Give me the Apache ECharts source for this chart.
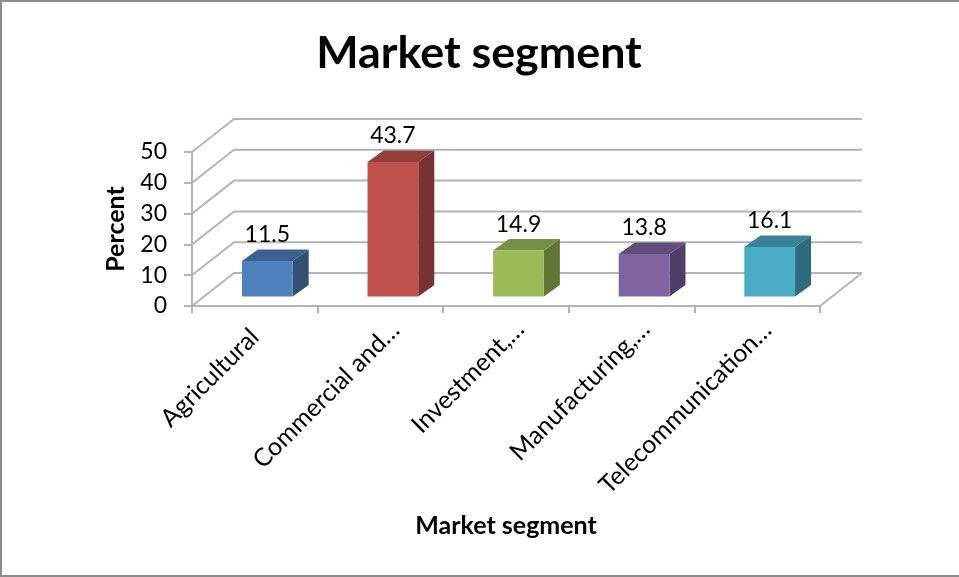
<!DOCTYPE html>
<html>
<head>
<meta charset="utf-8">
<style>
  html, body { margin: 0; padding: 0; background: #fff; }
  #chart { width: 959px; height: 577px; }
</style>
<script src="https://cdn.jsdelivr.net/npm/echarts@6/dist/echarts.min.js"></script>
</head>
<body>
<div id="chart"></div>
<script>
const categories = ['Agricultural', 'Commercial and…', 'Investment,…', 'Manufacturing,…', 'Telecommunication…'];
const percents = [11.5, 43.7, 14.9, 13.8, 16.1];
const frontColors = ['#4f81bd', '#c0504d', '#9bbb59', '#8064a2', '#4bacc6'];
const topColors = ['#3c618f', '#91403c', '#769043', '#614c7b', '#398296'];
const sideColors = ['#315074', '#773331', '#617635', '#4f3e65', '#2f6b7b'];
const wallTicks = [0, 10, 20, 30, 40, 50];
// Offset of each slanted category label's end from its band centre on the floor line.
const labelShiftsX = [0, 15, 14, 14, 10];
const labelShiftsY = [27, 20, 19, 19, 20];

const FONT = 'Lato, "Open Sans", sans-serif';
const GRID_COLOR = '#b4b4b4';
const FRAME_COLOR = '#8c8c8c';
// Depth of the floor and of each bar, in pixels, for the oblique projection.
const WALL_DX = 42, WALL_DY = -33;
const BAR_SHIFT_X = 12.5, BAR_SHIFT_Y = -9.5;
const BAR_DX = 16, BAR_DY = -11.5, BAR_WIDTH_RATIO = 0.404;

function wallItem(params, api) {
  const y = api.coord([0, api.value(0)])[1];
  const cs = params.coordSys;
  const xL = cs.x, xR = cs.x + cs.width;
  const style = { stroke: GRID_COLOR, lineWidth: 2, fill: null };
  const children = [{
    type: 'polyline',
    shape: { points: [[xL, y], [xL + WALL_DX, y + WALL_DY], [xR + WALL_DX, y + WALL_DY]] },
    style
  }];
  if (api.value(0) === 0) {
    children.push({
      type: 'polyline',
      shape: { points: [[xL, y], [xR, y], [xR + WALL_DX, y + WALL_DY]] },
      style
    });
  }
  return { type: 'group', children };
}

function barItem(params, api) {
  const i = api.value(0);
  const base = api.coord([i, 0]);
  const top = api.coord([i, api.value(1)]);
  const w = api.size([1, 0])[0] * BAR_WIDTH_RATIO;
  const x0 = base[0] + BAR_SHIFT_X - w / 2, x1 = x0 + w;
  const y0 = base[1] + BAR_SHIFT_Y, y1 = top[1] + BAR_SHIFT_Y;
  return {
    type: 'group',
    children: [
      { type: 'polygon', shape: { points: [[x1, y0], [x1 + BAR_DX, y0 + BAR_DY], [x1 + BAR_DX, y1 + BAR_DY], [x1, y1]] }, style: { fill: sideColors[i] } },
      { type: 'polygon', shape: { points: [[x0, y1], [x1, y1], [x1 + BAR_DX, y1 + BAR_DY], [x0 + BAR_DX, y1 + BAR_DY]] }, style: { fill: topColors[i] } },
      { type: 'rect', shape: { x: x0, y: y1, width: w, height: y0 - y1 }, style: { fill: frontColors[i] } },
      {
        type: 'text',
        style: {
          x: (x0 + x1) / 2, y: y1 + BAR_DY - 15,
          text: String(api.value(1)),
          fill: '#000', font: '23px ' + FONT, align: 'center', verticalAlign: 'middle'
        }
      }
    ]
  };
}

// Slanted category names, each ending under its own band.
function categoryLabelItem(params, api) {
  const i = api.value(0);
  const p = api.coord([i, 0]);
  return {
    type: 'text',
    x: p[0] + labelShiftsX[i],
    y: p[1] + labelShiftsY[i],
    rotation: Math.PI / 4,
    style: {
      text: categories[i],
      fill: '#000', font: '25px ' + FONT, align: 'right', verticalAlign: 'middle'
    }
  };
}

const chart = echarts.init(document.getElementById('chart'), null, { renderer: 'canvas' });
chart.setOption({
  animation: false,
  backgroundColor: '#fff',
  title: {
    text: 'Market segment',
    left: 474, top: 26, textAlign: 'center',
    textStyle: { fontFamily: FONT, fontWeight: 'bold', fontSize: 44.8, color: '#000' }
  },
  // Chart frame: open on the right-hand side.
  graphic: [{
    type: 'polyline',
    silent: true,
    shape: { points: [[959, 1], [1, 1], [1, 576], [959, 576]] },
    style: { stroke: FRAME_COLOR, lineWidth: 2, fill: null }
  }],
  grid: { left: 192, right: 139, top: 152, bottom: 271 },
  xAxis: {
    type: 'category',
    data: categories,
    name: 'Market segment',
    nameLocation: 'middle',
    nameGap: 207,
    nameTextStyle: { fontFamily: FONT, fontWeight: 'bold', fontSize: 25, color: '#000' },
    axisLine: { show: false },
    axisTick: { show: true, interval: 0, alignWithLabel: false, length: 7, lineStyle: { color: GRID_COLOR, width: 2 } },
    axisLabel: { show: false, interval: 0 },
    splitLine: { show: false }
  },
  yAxis: {
    type: 'value',
    min: 0, max: 50, interval: 10,
    name: 'Percent',
    nameLocation: 'middle',
    nameGap: 64,
    nameTextStyle: { fontFamily: FONT, fontWeight: 'bold', fontSize: 25, color: '#000' },
    axisLine: { show: true, lineStyle: { color: GRID_COLOR, width: 2 } },
    axisTick: { show: true, length: 8, lineStyle: { color: GRID_COLOR, width: 2 } },
    axisLabel: { margin: 25, padding: [8, 0, 0, 0], fontFamily: FONT, fontSize: 23, color: '#000' },
    splitLine: { show: false }
  },
  series: [
    {
      type: 'custom',
      coordinateSystem: 'cartesian2d',
      clip: false,
      silent: true,
      renderItem: wallItem,
      encode: { y: 0 },
      data: wallTicks.map(v => [v]),
      z: 1
    },
    {
      type: 'custom',
      coordinateSystem: 'cartesian2d',
      clip: false,
      renderItem: barItem,
      encode: { x: 0, y: 1 },
      data: percents.map((v, i) => [i, v]),
      z: 2
    },
    {
      type: 'custom',
      coordinateSystem: 'cartesian2d',
      clip: false,
      silent: true,
      renderItem: categoryLabelItem,
      encode: { x: 0 },
      data: categories.map((c, i) => [i]),
      z: 3
    }
  ]
});
</script>
</body>
</html>
